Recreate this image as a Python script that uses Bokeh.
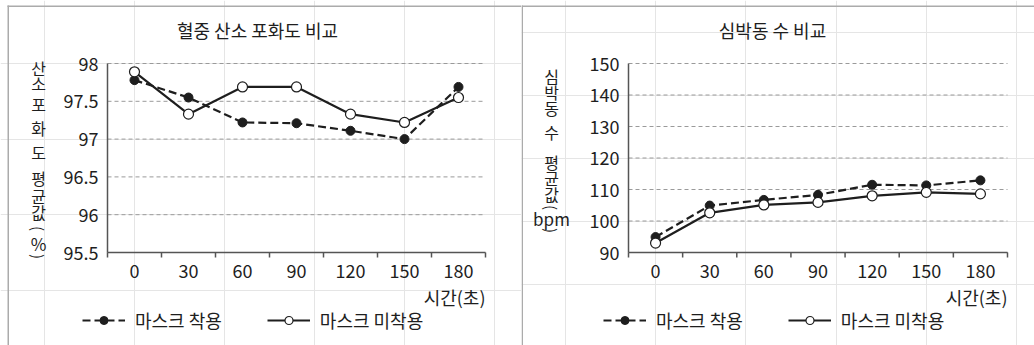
import math
from bokeh.plotting import figure
from bokeh.models import Legend, LegendItem, Range1d
from bokeh.core.properties import value
from bokeh.layouts import row
from bokeh.embed import file_html
from bokeh.resources import INLINE

# ---------------- data ----------------
times = [0, 30, 60, 90, 120, 150, 180]
x_labels = ["0", "30", "60", "90", "120", "150", "180"]

spo2_mask = [97.78, 97.55, 97.22, 97.21, 97.11, 97.00, 97.69]
spo2_nomask = [97.89, 97.33, 97.69, 97.69, 97.33, 97.22, 97.55]
spo2_ticks = [95.5, 96, 96.5, 97, 97.5, 98]
spo2_tick_labels = ["95.5", "96", "96.5", "97", "97.5", "98"]

hr_mask = [94.9, 104.9, 106.7, 108.3, 111.5, 111.3, 112.9]
hr_nomask = [93.0, 102.6, 105.1, 105.9, 108.0, 109.1, 108.6]
hr_ticks = [90, 100, 110, 120, 130, 140, 150]
hr_tick_labels = ["90", "100", "110", "120", "130", "140", "150"]

series_names = ["마스크 착용", "마스크 미착용"]
titles = ["혈중 산소 포화도 비교", "심박동 수 비교"]
x_title = "시간(초)"
# stacked y-axis titles: (text, vertical pixel position, rotated?)
ylabel_left = [("산", 67, 0), ("소", 82, 0), ("포", 103, 0), ("화", 127, 0), ("도", 151, 0),
               ("평", 177, 0), ("균", 195, 0), ("값", 211, 0), ("(", 228, 1), ("%", 243, 0),
               (")", 256, 1)]
ylabel_right = [("심", 75, 0), ("박", 91, 0), ("동", 107, 0), ("수", 131, 0), ("평", 161, 0),
                ("균", 177, 0), ("값", 193, 0), ("(", 207, 1), ("bpm", 218, 0), (")", 230, 1)]

FONT = value("Noto Sans CJK KR")
INK = "#1e1e1e"
AXIS = "#555555"
FRAME = "#ababab"
H = 345


def make_panel(W, area_left, area_right, area_top, area_bot, y_ticks, y_tick_labels,
               mask_vals, nomask_vals, title, title_cx, ylabel_parts, ylabel_cx,
               frame_x, top_x0):
    step = times[1] - times[0]
    x_lo, x_hi = times[0] - step / 2, times[-1] + step / 2
    y_lo, y_hi = y_ticks[0], y_ticks[-1]
    sx = (area_right - area_left) / (x_hi - x_lo)
    sy = (area_bot - area_top) / (y_hi - y_lo)
    x_start = x_lo - area_left / sx
    y_end = y_hi + area_top / sy

    def X(px):
        return x_start + px / sx

    def Y(py):
        return y_end - py / sy

    p = figure(width=W, height=H, output_backend="svg", toolbar_location=None,
               x_range=Range1d(x_start, X(W)), y_range=Range1d(Y(H), y_end),
               x_axis_location=None, y_axis_location=None, min_border=0)
    p.outline_line_color = None
    p.background_fill_color = "white"
    p.border_fill_color = "white"

    # outer frame lines
    p.segment(x0=[X(top_x0), X(frame_x)], y0=[Y(5.75), Y(5)],
              x1=[X(W), X(frame_x)], y1=[Y(5.75), Y(H)],
              line_color=FRAME, line_width=1.5)

    # horizontal dashed grid
    n = len(y_ticks)
    p.segment(x0=[x_lo] * n, y0=y_ticks, x1=[x_hi] * n, y1=y_ticks,
              line_color="#9a9a9a", line_width=1, line_dash="4 3")
    # axes
    p.segment(x0=[x_lo, x_lo], y0=[y_lo, y_lo], x1=[x_lo, x_hi], y1=[y_hi, y_lo],
              line_color=AXIS, line_width=1.5)
    bounds = [t - step / 2 for t in times] + [times[-1] + step / 2]
    p.segment(x0=bounds, y0=[y_lo] * len(bounds), x1=bounds,
              y1=[Y(area_bot + 5)] * len(bounds), line_color=AXIS, line_width=1.5)
    # tick labels
    p.text(x=[X(area_left - 9)] * n, y=y_ticks, text=y_tick_labels,
           text_align="right", text_baseline="middle", text_font=FONT,
           text_font_size=value("18px"), text_color=INK)
    p.text(x=times, y=[Y(270)] * len(times), text=x_labels,
           text_align="center", text_baseline="middle", text_font=FONT,
           text_font_size=value("18px"), text_color=INK)
    # titles
    p.text(x=[X(title_cx)], y=[Y(29)], text=[title], text_align="center",
           text_baseline="middle", text_font=FONT, text_font_size=value("18px"),
           text_color=INK)
    p.text(x=[x_hi], y=[Y(296)], text=[x_title], text_align="right",
           text_baseline="middle", text_font=FONT, text_font_size=value("18px"),
           text_color=INK)
    for txt, py, rot in ylabel_parts:
        size = "15px" if rot else ("17px" if txt.isascii() else "16px")
        p.text(x=[X(ylabel_cx)], y=[Y(py)], text=[txt],
               angle=(-math.pi / 2 if rot else 0),
               text_align="center", text_baseline="middle", text_font=FONT,
               text_font_size=value(size), text_color=INK)

    # series
    l1 = p.line(times, mask_vals, line_color=INK, line_width=2.2, line_dash="8 4")
    s1 = p.scatter(times, mask_vals, marker="circle", size=9, fill_color=INK,
                   line_color=INK, line_width=1)
    l2 = p.line(times, nomask_vals, line_color=INK, line_width=2.2)
    s2 = p.scatter(times, nomask_vals, marker="circle", size=10, fill_color="white",
                   line_color=INK, line_width=1.2)

    legend = Legend(items=[LegendItem(label=series_names[0], renderers=[l1, s1]),
                           LegendItem(label=series_names[1], renderers=[l2, s2])],
                    orientation="horizontal", location=(82, 12),
                    padding=0, margin=0, spacing=45, glyph_width=43, glyph_height=20,
                    label_standoff=10, border_line_color=None, background_fill_alpha=0,
                    label_text_font="Noto Sans CJK KR", label_text_font_size="18px",
                    label_text_color=INK)
    p.add_layout(legend)
    return p


p1 = make_panel(521, 107, 485, 63, 252, spo2_ticks, spo2_tick_labels, spo2_mask,
                spo2_nomask, titles[0], 257, ylabel_left, 38, 7.75, 7)
p2 = make_panel(513, 107, 486, 63, 252, hr_ticks, hr_tick_labels, hr_mask,
                hr_nomask, titles[1], 251, ylabel_right, 30, 0.75, 0)

layout = row(p1, p2)
open("out.html", "w").write(file_html(layout, INLINE))
